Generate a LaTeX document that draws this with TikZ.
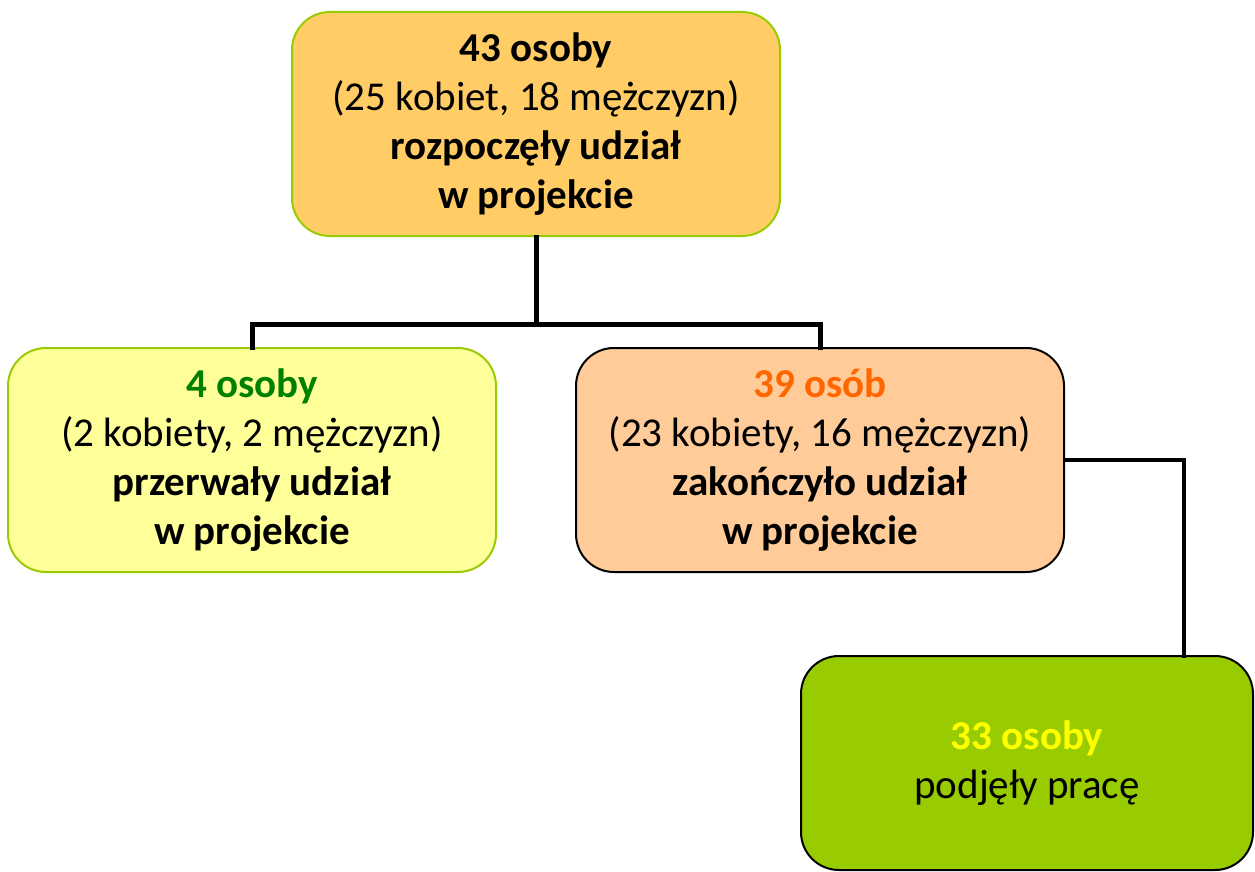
\documentclass[tikz,border=0pt]{standalone}
\usepackage{fontspec}
\setmainfont{Carlito}
\definecolor{borderg}{HTML}{99CC00}
\definecolor{fillTop}{HTML}{FFCC66}
\definecolor{fillLeft}{HTML}{FFFF99}
\definecolor{fillMid}{HTML}{FFCC99}
\definecolor{fillBot}{HTML}{99CC00}
\definecolor{txtGreen}{HTML}{008000}
\definecolor{txtOrange}{HTML}{FF6600}
\definecolor{txtYellow}{HTML}{FFFF00}
\begin{document}
\begin{tikzpicture}[x=1pt,y=1pt,
  box/.style={rounded corners=38pt, line width=2pt, minimum width=488pt, minimum height=224pt,
    inner sep=0pt, align=center, font=\fontsize{41}{49}\selectfont},
  link/.style={line width=5pt, line join=miter, line cap=rect}]
\useasboundingbox (0,0) rectangle (1255,-872);
\node[box, draw=borderg, fill=fillTop] (top) at (536,-124)
  {\textbf{43 osoby}\\(25 kobiet, 18 mężczyzn)\\\textbf{rozpoczęły udział}\\\textbf{w projekcie}};
\node[box, draw=borderg, fill=fillLeft] (left) at (252,-460)
  {\textbf{\color{txtGreen}4 osoby}\\(2 kobiety, 2 mężczyzn)\\\textbf{przerwały udział}\\\textbf{w projekcie}};
\node[box, draw=black, fill=fillMid] (mid) at (820,-460)
  {\textbf{\color{txtOrange}39 osób}\\(23 kobiety, 16 mężczyzn)\\\textbf{zakończyło udział}\\\textbf{w projekcie}};
\node[box, draw=black, fill=fillBot, minimum width=452pt, minimum height=214pt] (bot) at (1027,-763)
  {\textbf{\color{txtYellow}33 osoby}\\podjęły pracę};
\coordinate (split) at (536,-324);
\coordinate (bj) at (1184,-656);
\draw[link] (top.south) -- (split);
\draw[link] (split) -| (left.north);
\draw[link] (split) -| (mid.north);
\draw[link, line width=4pt] (mid.east) -| (bj);
\end{tikzpicture}
\end{document}
